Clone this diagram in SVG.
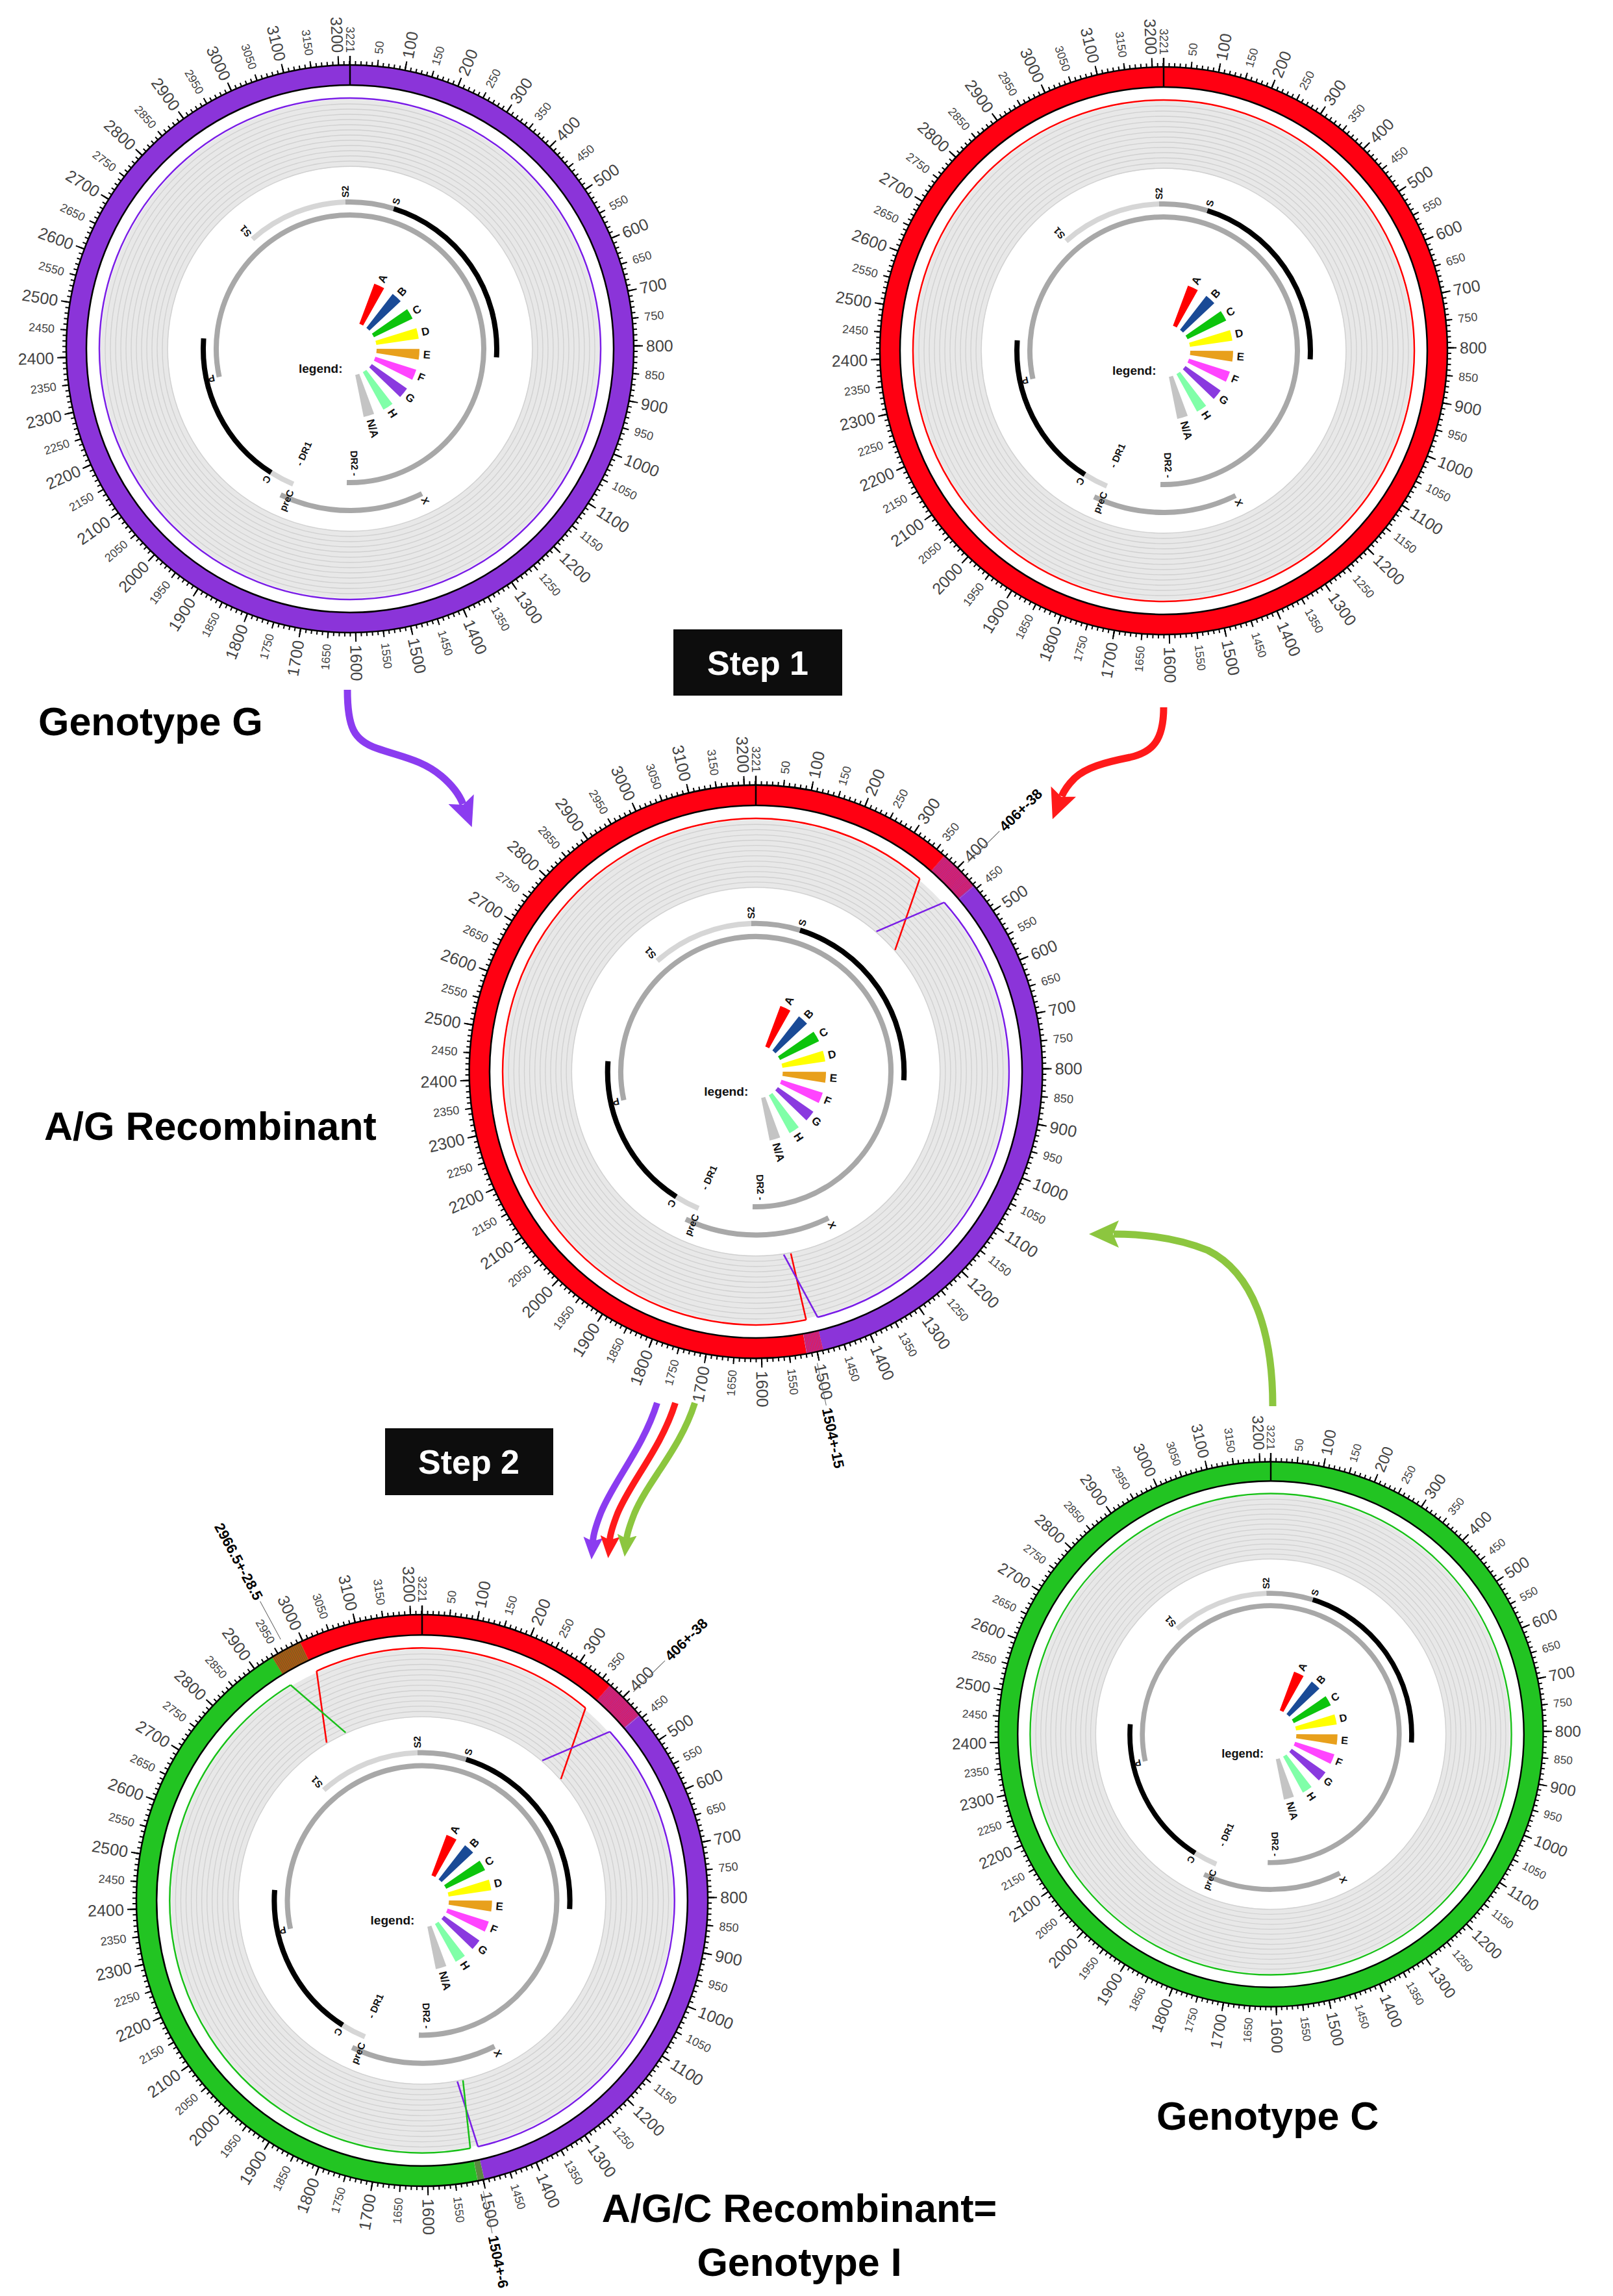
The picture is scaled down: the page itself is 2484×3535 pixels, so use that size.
<svg xmlns="http://www.w3.org/2000/svg" width="2484" height="3535" viewBox="0 0 2484 3535">
<defs>
<style>
.tl text{font-family:"Liberation Sans",Arial,sans-serif;fill:#444}
.mj{font-size:25px}
.mn{font-size:18px}
.r{text-anchor:start;dominant-baseline:central}
.l{text-anchor:end;dominant-baseline:central}
.g text{font-family:"Liberation Sans",Arial,sans-serif;font-weight:bold;font-size:15px;fill:#111}
.ann{font-family:"Liberation Sans",Arial,sans-serif;font-weight:bold;font-size:22px;fill:#000}
.big{font-family:"Liberation Sans",Arial,sans-serif;font-weight:bold;font-size:61px;fill:#000}
.step{font-family:"Liberation Sans",Arial,sans-serif;font-weight:bold;font-size:52px;fill:#fff;text-anchor:middle}
.arw{fill:none;stroke-width:11;stroke-linecap:butt}
.arw2{fill:none;stroke-width:10}
.seg{fill:none;stroke-width:31}
.ln{fill:none;stroke-width:2.5}
.lead{stroke:#666;stroke-width:1}
</style>
<marker id="ahP" markerUnits="userSpaceOnUse" markerWidth="46" markerHeight="42" viewBox="0 0 46 42" refX="8" refY="21" orient="auto"><path d="M0,0 L46,21 L0,42 L9,21 z" fill="#8b3cf0"/></marker>
<marker id="ahR" markerUnits="userSpaceOnUse" markerWidth="46" markerHeight="42" viewBox="0 0 46 42" refX="8" refY="21" orient="auto"><path d="M0,0 L46,21 L0,42 L9,21 z" fill="#ff1a1a"/></marker>
<marker id="ahG" markerUnits="userSpaceOnUse" markerWidth="46" markerHeight="42" viewBox="0 0 46 42" refX="8" refY="21" orient="auto"><path d="M0,0 L46,21 L0,42 L9,21 z" fill="#8cc63f"/></marker>
<marker id="sP" markerUnits="userSpaceOnUse" markerWidth="34" markerHeight="30" viewBox="0 0 34 30" refX="6" refY="15" orient="auto"><path d="M0,0 L34,15 L0,30 L6,15 z" fill="#8b3cf0"/></marker>
<marker id="sR" markerUnits="userSpaceOnUse" markerWidth="34" markerHeight="30" viewBox="0 0 34 30" refX="6" refY="15" orient="auto"><path d="M0,0 L34,15 L0,30 L6,15 z" fill="#ff1a1a"/></marker>
<marker id="sG" markerUnits="userSpaceOnUse" markerWidth="34" markerHeight="30" viewBox="0 0 34 30" refX="6" refY="15" orient="auto"><path d="M0,0 L34,15 L0,30 L6,15 z" fill="#8cc63f"/></marker>

<g id="base">
 <circle r="332" fill="none" stroke="#e8e8e8" stroke-width="104"/>
 <g fill="none" stroke="#d0d0d0" stroke-width="1.3">
  <circle r="281"/><circle r="289"/><circle r="297"/><circle r="305"/><circle r="313"/><circle r="321"/><circle r="329"/><circle r="337"/><circle r="345"/><circle r="353"/><circle r="361"/><circle r="369"/><circle r="377"/>
 </g>
 <circle r="437" fill="none" stroke="#000" stroke-width="2.5"/>
 <circle r="406" fill="none" stroke="#000" stroke-width="2.5"/>
 <g fill="none" stroke="#000" transform="rotate(-90)">
  <circle r="440" stroke-width="6" pathLength="3221" stroke-dasharray="2.3 7.7" stroke-dashoffset="1.15"/>
  <circle r="442" stroke-width="10" pathLength="3221" stroke-dasharray="2.3 47.7" stroke-dashoffset="1.15"/>
  <circle r="444" stroke-width="14" pathLength="3221" stroke-dasharray="2.3 97.7" stroke-dashoffset="1.15"/>
 </g>
 <line x1="0" y1="-406" x2="0" y2="-451" stroke="#000" stroke-width="2.5"/>
 <g class="tl">
  <text class="mn r" transform="rotate(-84.412) translate(456,0)">50</text>
  <text class="mj r" transform="rotate(-78.823) translate(456,0)">100</text>
  <text class="mn r" transform="rotate(-73.235) translate(456,0)">150</text>
  <text class="mj r" transform="rotate(-67.647) translate(456,0)">200</text>
  <text class="mn r" transform="rotate(-62.058) translate(456,0)">250</text>
  <text class="mj r" transform="rotate(-56.470) translate(456,0)">300</text>
  <text class="mn r" transform="rotate(-50.882) translate(456,0)">350</text>
  <text class="mj r" transform="rotate(-45.293) translate(456,0)">400</text>
  <text class="mn r" transform="rotate(-39.705) translate(456,0)">450</text>
  <text class="mj r" transform="rotate(-34.117) translate(456,0)">500</text>
  <text class="mn r" transform="rotate(-28.528) translate(456,0)">550</text>
  <text class="mj r" transform="rotate(-22.940) translate(456,0)">600</text>
  <text class="mn r" transform="rotate(-17.352) translate(456,0)">650</text>
  <text class="mj r" transform="rotate(-11.763) translate(456,0)">700</text>
  <text class="mn r" transform="rotate(-6.175) translate(456,0)">750</text>
  <text class="mj r" transform="rotate(-0.587) translate(456,0)">800</text>
  <text class="mn r" transform="rotate(5.002) translate(456,0)">850</text>
  <text class="mj r" transform="rotate(10.590) translate(456,0)">900</text>
  <text class="mn r" transform="rotate(16.178) translate(456,0)">950</text>
  <text class="mj r" transform="rotate(21.767) translate(456,0)">1000</text>
  <text class="mn r" transform="rotate(27.355) translate(456,0)">1050</text>
  <text class="mj r" transform="rotate(32.943) translate(456,0)">1100</text>
  <text class="mn r" transform="rotate(38.532) translate(456,0)">1150</text>
  <text class="mj r" transform="rotate(44.120) translate(456,0)">1200</text>
  <text class="mn r" transform="rotate(49.708) translate(456,0)">1250</text>
  <text class="mj r" transform="rotate(55.297) translate(456,0)">1300</text>
  <text class="mn r" transform="rotate(60.885) translate(456,0)">1350</text>
  <text class="mj r" transform="rotate(66.473) translate(456,0)">1400</text>
  <text class="mn r" transform="rotate(72.061) translate(456,0)">1450</text>
  <text class="mj r" transform="rotate(77.650) translate(456,0)">1500</text>
  <text class="mn r" transform="rotate(83.238) translate(456,0)">1550</text>
  <text class="mj r" transform="rotate(88.826) translate(456,0)">1600</text>
  <text class="mn l" transform="rotate(-85.585) translate(-456,0)">1650</text>
  <text class="mj l" transform="rotate(-79.997) translate(-456,0)">1700</text>
  <text class="mn l" transform="rotate(-74.409) translate(-456,0)">1750</text>
  <text class="mj l" transform="rotate(-68.820) translate(-456,0)">1800</text>
  <text class="mn l" transform="rotate(-63.232) translate(-456,0)">1850</text>
  <text class="mj l" transform="rotate(-57.644) translate(-456,0)">1900</text>
  <text class="mn l" transform="rotate(-52.055) translate(-456,0)">1950</text>
  <text class="mj l" transform="rotate(-46.467) translate(-456,0)">2000</text>
  <text class="mn l" transform="rotate(-40.879) translate(-456,0)">2050</text>
  <text class="mj l" transform="rotate(-35.290) translate(-456,0)">2100</text>
  <text class="mn l" transform="rotate(-29.702) translate(-456,0)">2150</text>
  <text class="mj l" transform="rotate(-24.114) translate(-456,0)">2200</text>
  <text class="mn l" transform="rotate(-18.525) translate(-456,0)">2250</text>
  <text class="mj l" transform="rotate(-12.937) translate(-456,0)">2300</text>
  <text class="mn l" transform="rotate(-7.349) translate(-456,0)">2350</text>
  <text class="mj l" transform="rotate(-1.760) translate(-456,0)">2400</text>
  <text class="mn l" transform="rotate(3.828) translate(-456,0)">2450</text>
  <text class="mj l" transform="rotate(9.416) translate(-456,0)">2500</text>
  <text class="mn l" transform="rotate(15.005) translate(-456,0)">2550</text>
  <text class="mj l" transform="rotate(20.593) translate(-456,0)">2600</text>
  <text class="mn l" transform="rotate(26.181) translate(-456,0)">2650</text>
  <text class="mj l" transform="rotate(31.770) translate(-456,0)">2700</text>
  <text class="mn l" transform="rotate(37.358) translate(-456,0)">2750</text>
  <text class="mj l" transform="rotate(42.946) translate(-456,0)">2800</text>
  <text class="mn l" transform="rotate(48.535) translate(-456,0)">2850</text>
  <text class="mj l" transform="rotate(54.123) translate(-456,0)">2900</text>
  <text class="mn l" transform="rotate(59.711) translate(-456,0)">2950</text>
  <text class="mj l" transform="rotate(65.300) translate(-456,0)">3000</text>
  <text class="mn l" transform="rotate(70.888) translate(-456,0)">3050</text>
  <text class="mj l" transform="rotate(76.476) translate(-456,0)">3100</text>
  <text class="mn l" transform="rotate(82.065) translate(-456,0)">3150</text>
  <text class="mj l" transform="rotate(87.653) translate(-456,0)">3200</text>
  <text class="mn l" transform="rotate(90) translate(-456,0)">3221</text>
 </g>
 <g fill="none" stroke-width="8">
  <circle r="226" stroke="#d6d6d6" pathLength="3221" stroke-dasharray="357 4000" transform="rotate(228.311)"/>
  <circle r="226" stroke="#a8a8a8" pathLength="3221" stroke-dasharray="171 4000" transform="rotate(268.212)"/>
  <circle r="226" stroke="#000" pathLength="3221" stroke-dasharray="680 4000" transform="rotate(-72.676)"/>
  <circle r="226" stroke="#d6d6d6" pathLength="3221" stroke-dasharray="87 4000" transform="rotate(112.745)"/>
  <circle r="226" stroke="#000" pathLength="3221" stroke-dasharray="551 4000" transform="rotate(122.468)"/>
  <circle r="206" stroke="#a8a8a8" pathLength="3221" stroke-dasharray="2537 4000" transform="rotate(167.845)"/>
  <circle r="249" stroke="#a8a8a8" pathLength="3221" stroke-dasharray="464 4000" transform="rotate(63.567)"/>
 </g>
 <g class="g">
  <text class="r" transform="rotate(228.311) translate(233,0)">S1</text>
  <text class="r" transform="rotate(268.212) translate(233,0)">S2</text>
  <text class="r" transform="rotate(-72.676) translate(233,0)">S</text>
  <text class="r" transform="rotate(167.845) translate(213,0)">P</text>
  <text class="r" transform="rotate(122.468) translate(233,0)">C</text>
  <text class="l" transform="rotate(292.745) translate(-236,0)">preC</text>
  <text class="r" transform="rotate(63.567) translate(256,0)">X</text>
  <text class="r" transform="rotate(293.863) translate(-196,0)">- DR1</text>
  <text class="l" transform="rotate(87.709) translate(196,0)">DR2 -</text>
 </g>
 <g fill="none" stroke-width="66">
  <circle r="74" stroke="#ff0000" pathLength="360" stroke-dasharray="9 400" transform="rotate(-69.5)"/>
  <circle r="74" stroke="#1a4a96" pathLength="360" stroke-dasharray="9 400" transform="rotate(-52.1)"/>
  <circle r="74" stroke="#0cc40c" pathLength="360" stroke-dasharray="9 400" transform="rotate(-34.7)"/>
  <circle r="74" stroke="#ffff00" pathLength="360" stroke-dasharray="9 400" transform="rotate(-17.3)"/>
  <circle r="74" stroke="#e8a01c" pathLength="360" stroke-dasharray="9 400" transform="rotate(0.1)"/>
  <circle r="74" stroke="#ff44ff" pathLength="360" stroke-dasharray="9 400" transform="rotate(17.5)"/>
  <circle r="74" stroke="#8a3adf" pathLength="360" stroke-dasharray="9 400" transform="rotate(34.9)"/>
  <circle r="74" stroke="#80ffa8" pathLength="360" stroke-dasharray="9 400" transform="rotate(52.3)"/>
  <circle r="74" stroke="#c4c4c4" pathLength="360" stroke-dasharray="9 400" transform="rotate(69.7)"/>
 </g>
 <g class="g">
  <text x="-79" y="37" style="font-size:19px">legend:</text>
  <text class="r" style="font-size:17px" transform="rotate(-65) translate(113,0)">A</text>
  <text class="r" style="font-size:17px" transform="rotate(-47.6) translate(113,0)">B</text>
  <text class="r" style="font-size:17px" transform="rotate(-30.2) translate(113,0)">C</text>
  <text class="r" style="font-size:17px" transform="rotate(-12.8) translate(113,0)">D</text>
  <text class="r" style="font-size:17px" transform="rotate(4.6) translate(113,0)">E</text>
  <text class="r" style="font-size:17px" transform="rotate(22) translate(113,0)">F</text>
  <text class="r" style="font-size:17px" transform="rotate(39.4) translate(113,0)">G</text>
  <text class="r" style="font-size:17px" transform="rotate(56.8) translate(113,0)">H</text>
  <text class="r" style="font-size:17px" transform="rotate(74.2) translate(113,0)">N/A</text>
 </g>
</g>
</defs>
<rect width="2484" height="3535" fill="#fff"/>

<g id="genotype-g" transform="translate(539,537)">
 <circle r="421.5" class="seg" stroke="#8b34d9"/>
 <use href="#base"/>
 <circle r="386" class="ln" stroke="#7a1ee6"/>
</g>

<g id="genotype-a" transform="translate(1792,540)">
 <circle r="421.5" class="seg" stroke="#ff0012"/>
 <use href="#base"/>
 <circle r="386" class="ln" stroke="#ff0000"/>
</g>

<g id="ag-recombinant" transform="translate(1164,1650) scale(1.01)">
 <circle r="421.5" class="seg" stroke="#ff0012" pathLength="3221" stroke-dasharray="2070 4000" transform="rotate(79.773)"/>
 <circle r="421.5" class="seg" stroke="#a8309c" pathLength="3221" stroke-dasharray="76 4000" transform="rotate(-48.870)"/>
 <circle r="421.5" class="seg" stroke="#ff1040" pathLength="3221" stroke-dasharray="1.2 1.8 1.2 1.8 1.2 1.8 1.2 1.8 1.2 1.8 1.2 1.8 1.2 1.8 1.2 1.8 1.2 1.8 1.2 1.8 1.2 1.8 1.2 1.8 1.2 1.8 1.2 1.8 1.2 1.8 1.2 1.8 1.2 1.8 1.2 1.8 1.2 1.8 1.2 1.8 1.2 1.8 1.2 1.8 1.2 1.8 1.2 1.8 1.2 4000" transform="rotate(-48.870)"/>
 <circle r="421.5" class="seg" stroke="#8b34d9" pathLength="3221" stroke-dasharray="1045 4000" transform="rotate(-40.376)"/>
 <circle r="421.5" class="seg" stroke="#a8309c" pathLength="3221" stroke-dasharray="30 4000" transform="rotate(76.420)"/>
 <circle r="421.5" class="seg" stroke="#ff1040" pathLength="3221" stroke-dasharray="1.2 1.8 1.2 1.8 1.2 1.8 1.2 1.8 1.2 1.8 1.2 1.8 1.2 1.8 1.2 1.8 1.2 1.8 1.2 4000" transform="rotate(76.420)"/>
 <use href="#base"/>
 <circle r="386" class="ln" stroke="#ff0000" pathLength="3221" stroke-dasharray="2074 4000" transform="rotate(78.544)"/>
 <polyline class="ln" stroke="#ff0000" points="249.9,-294.2 212.3,-185.6"/>
 <polyline class="ln" stroke="#ff0000" points="76.7,378.3 53.3,276.9"/>
 <circle r="386" class="ln" stroke="#7a1ee6" pathLength="3221" stroke-dasharray="1054 4000" transform="rotate(-41.940)"/>
 <polyline class="ln" stroke="#7a1ee6" points="183.8,-213.8 287.1,-258.0"/>
 <polyline class="ln" stroke="#7a1ee6" points="94.3,374.3 42.5,278.8"/>
 <line class="lead" x1="454" y1="0" x2="522" y2="0" transform="rotate(-44.623)"/>
 <text class="ann r" transform="rotate(-44.623) translate(527,0)">406+-38</text>
 <line class="lead" x1="454" y1="0" x2="520" y2="0" transform="rotate(78.097)"/>
 <text class="ann r" transform="rotate(78.097) translate(524,0)">1504+-15</text>
</g>

<g id="genotype-c" transform="translate(1957,2670) scale(0.96)">
 <circle r="421.5" class="seg" stroke="#22c422"/>
 <use href="#base"/>
 <circle r="386" class="ln" stroke="#19c019"/>
</g>

<g id="agc-recombinant" transform="translate(650,2926) scale(1.007)">
 <circle r="421.5" class="seg" stroke="#ff0012" pathLength="3221" stroke-dasharray="594 4000" transform="rotate(244.741)"/>
 <circle r="421.5" class="seg" stroke="#a8309c" pathLength="3221" stroke-dasharray="76 4000" transform="rotate(-48.870)"/>
 <circle r="421.5" class="seg" stroke="#ff1040" pathLength="3221" stroke-dasharray="1.2 1.8 1.2 1.8 1.2 1.8 1.2 1.8 1.2 1.8 1.2 1.8 1.2 1.8 1.2 1.8 1.2 1.8 1.2 1.8 1.2 1.8 1.2 1.8 1.2 1.8 1.2 1.8 1.2 1.8 1.2 1.8 1.2 1.8 1.2 1.8 1.2 1.8 1.2 1.8 1.2 1.8 1.2 1.8 1.2 1.8 1.2 1.8 1.2 4000" transform="rotate(-48.870)"/>
 <circle r="421.5" class="seg" stroke="#8b34d9" pathLength="3221" stroke-dasharray="1054 4000" transform="rotate(-40.376)"/>
 <circle r="421.5" class="seg" stroke="#5a8a40" pathLength="3221" stroke-dasharray="12 4000" transform="rotate(77.426)"/>
 <circle r="421.5" class="seg" stroke="#22c422" pathLength="3221" stroke-dasharray="1428 4000" transform="rotate(78.768)"/>
 <circle r="421.5" class="seg" stroke="#7a6a18" pathLength="3221" stroke-dasharray="57 4000" transform="rotate(238.370)"/>
 <circle r="421.5" class="seg" stroke="#d83a18" pathLength="3221" stroke-dasharray="1.2 2.3 1.2 2.3 1.2 2.3 1.2 2.3 1.2 2.3 1.2 2.3 1.2 2.3 1.2 2.3 1.2 2.3 1.2 2.3 1.2 2.3 1.2 2.3 1.2 2.3 1.2 2.3 1.2 2.3 1.2 2.3 1.2 4000" transform="rotate(238.370)"/>
 <use href="#base"/>
 <circle r="386" class="ln" stroke="#ff0000" pathLength="3221" stroke-dasharray="582 4000" transform="rotate(245.300)"/>
 <polyline class="ln" stroke="#ff0000" points="-146.0,-241.3 -161.3,-350.7"/>
 <polyline class="ln" stroke="#ff0000" points="249.9,-294.2 212.3,-185.6"/>
 <circle r="386" class="ln" stroke="#7a1ee6" pathLength="3221" stroke-dasharray="1066 4000" transform="rotate(-41.940)"/>
 <polyline class="ln" stroke="#7a1ee6" points="183.8,-213.8 287.1,-258.0"/>
 <polyline class="ln" stroke="#7a1ee6" points="85.5,376.4 53.9,276.8"/>
 <circle r="386" class="ln" stroke="#19c019" pathLength="3221" stroke-dasharray="1428 4000" transform="rotate(78.991)"/>
 <polyline class="ln" stroke="#19c019" points="62.5,275.0 73.7,378.9"/>
 <polyline class="ln" stroke="#19c019" points="-201.1,-329.5 -116.9,-256.6"/>
 <line class="lead" x1="454" y1="0" x2="522" y2="0" transform="rotate(-44.623)"/>
 <text class="ann r" transform="rotate(-44.623) translate(527,0)">406+-38</text>
 <line class="lead" x1="454" y1="0" x2="520" y2="0" transform="rotate(78.097)"/>
 <text class="ann r" transform="rotate(78.097) translate(524,0)">1504+-6</text>
 <line class="lead" x1="-454" y1="0" x2="-520" y2="0" transform="rotate(61.555)"/>
 <text class="ann l" transform="rotate(61.555) translate(-524,0)">2966.5+-28.5</text>
</g>

<g id="connectors">
 <path class="arw" stroke="#8b3cf0" marker-end="url(#ahP)" d="M535,1062 C535,1120 545,1140 580,1152 C620,1166 650,1170 680,1195 C700,1212 708,1225 713,1238"/>
 <path class="arw" stroke="#ff1a1a" marker-end="url(#ahR)" d="M1792,1089 C1792,1140 1775,1158 1740,1166 C1700,1174 1672,1182 1655,1198 C1645,1208 1639,1216 1635,1226"/>
 <path class="arw" stroke="#8cc63f" marker-end="url(#ahG)" d="M1960,2165 C1960,2050 1930,1960 1860,1925 C1810,1905 1760,1900 1715,1900"/>
 <path class="arw2" stroke="#8b3cf0" marker-end="url(#sP)" d="M1012,2160 C990,2230 945,2280 925,2330 C918,2348 914,2360 913,2373"/>
 <path class="arw2" stroke="#ff1a1a" marker-end="url(#sR)" d="M1040,2160 C1018,2230 972,2280 951,2330 C944,2348 940,2360 939,2371"/>
 <path class="arw2" stroke="#8cc63f" marker-end="url(#sG)" d="M1070,2160 C1048,2230 998,2280 977,2330 C970,2348 966,2360 965,2369"/>
</g>

<g id="step1">
 <rect x="1037" y="969" width="260" height="102" fill="#0d0d0d"/>
 <text class="step" x="1167" y="1039">Step 1</text>
</g>
<g id="step2">
 <rect x="593" y="2199" width="259" height="103" fill="#0d0d0d"/>
 <text class="step" x="722" y="2269">Step 2</text>
</g>

<g id="labels">
 <text class="big" x="59" y="1132">Genotype G</text>
 <text class="big" x="68" y="1755">A/G Recombinant</text>
 <text class="big" x="1781" y="3279">Genotype C</text>
 <text class="big" x="1231" y="3421" text-anchor="middle">A/G/C Recombinant=</text>
 <text class="big" x="1231" y="3504" text-anchor="middle">Genotype I</text>
</g>
</svg>
